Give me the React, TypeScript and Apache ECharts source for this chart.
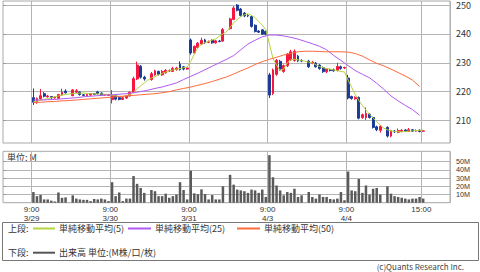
import React, { useEffect, useRef } from 'react';
import * as echarts from 'echarts';

// ---- categories / tick labels ----
const dayLabels = ['3/29', '3/30', '3/31', '4/3', '4/4'];
const sessionTimes = [
  '9:00', '9:15', '9:30', '9:45', '10:00', '10:15', '10:30', '10:45', '11:00', '11:15',
  '11:30',
  '12:30', '12:45', '13:00', '13:15', '13:30', '13:45', '14:00', '14:15', '14:30', '14:45', '15:00',
];
const openTime = '9:00';
const closeTime = '15:00';
const volumeTicks = [10, 20, 30, 40, 50];

// ---- candles [open, close, low, high], 21 bars per day (10 morning + 11 afternoon) ----
const candles0329 = [
  [217.9, 216.3, 215.4, 221.1], [216.2, 217.6, 215.8, 218.0], [217.5, 218.6, 217.2, 220.9],
  [219.3, 218.4, 218.0, 219.8], [218.2, 218.5, 217.9, 218.9], [218.3, 217.9, 217.5, 218.5],
  [217.8, 218.1, 217.6, 218.2], [217.7, 219.0, 217.5, 219.2], [218.9, 219.8, 218.6, 221.0],
  [220.2, 219.6, 219.3, 220.8],
  [218.6, 220.6, 218.4, 220.9], [219.8, 220.3, 219.5, 220.9], [219.9, 219.0, 218.6, 220.1],
  [218.9, 218.7, 218.4, 219.2], [218.6, 219.0, 218.5, 219.2], [218.8, 219.3, 218.6, 219.5],
  [219.3, 219.1, 218.9, 219.5], [219.9, 219.3, 219.0, 220.3], [219.5, 218.8, 218.6, 219.7],
  [218.8, 218.9, 218.6, 219.1], [218.7, 219.0, 218.5, 219.2],
];
const candles0330 = [
  [217.2, 218.6, 215.9, 220.5], [218.6, 217.4, 217.0, 218.9], [217.9, 217.3, 217.0, 218.2],
  [217.3, 217.9, 217.1, 218.1], [217.8, 218.6, 217.5, 218.9], [218.5, 219.8, 218.3, 220.0],
  [219.7, 224.5, 219.5, 225.2], [224.4, 229.2, 224.0, 230.4], [228.8, 225.0, 224.5, 229.2],
  [225.0, 224.4, 223.8, 225.5],
  [224.2, 226.2, 223.8, 226.8], [225.8, 227.2, 225.5, 227.6], [227.0, 226.0, 225.6, 227.3],
  [225.8, 227.0, 225.5, 227.5], [226.5, 227.4, 226.2, 227.8], [227.2, 227.3, 226.8, 227.7],
  [227.0, 228.0, 226.8, 228.6], [227.6, 228.2, 227.3, 228.6], [229.5, 227.6, 227.3, 230.5],
  [228.6, 227.8, 227.4, 228.9], [227.8, 228.2, 227.6, 228.5],
];
const candles0331 = [
  [237.9, 233.4, 232.8, 238.4], [233.4, 235.7, 233.0, 236.0], [235.3, 236.8, 235.0, 237.2],
  [236.5, 237.8, 236.2, 238.7], [237.9, 236.9, 236.5, 238.3], [237.1, 237.3, 236.8, 237.7],
  [237.8, 236.9, 236.6, 238.1], [236.9, 237.6, 236.6, 237.9], [237.5, 237.4, 237.1, 237.9],
  [237.5, 241.5, 237.3, 242.0],
  [241.8, 245.2, 241.5, 245.6], [245.0, 249.0, 244.8, 249.6], [250.0, 248.2, 247.8, 250.3],
  [248.6, 246.4, 246.0, 249.0], [247.2, 246.2, 245.8, 247.6], [246.4, 246.2, 245.8, 246.8],
  [246.0, 242.6, 242.2, 246.3], [243.0, 240.8, 240.5, 243.3], [241.0, 240.6, 240.3, 241.3],
  [241.4, 239.9, 239.6, 241.7], [240.9, 239.9, 239.5, 241.2],
];
const candles0403 = [
  [225.8, 218.8, 217.8, 226.5], [219.3, 227.5, 218.8, 228.0], [226.0, 230.8, 225.5, 231.3],
  [230.5, 227.8, 227.2, 231.0], [227.0, 229.0, 226.5, 229.4], [229.0, 233.0, 228.5, 233.4],
  [231.0, 233.8, 230.6, 234.5], [230.8, 234.0, 230.4, 234.6], [232.3, 230.6, 230.2, 232.7],
  [230.8, 230.6, 230.2, 231.2],
  [230.6, 228.6, 228.2, 231.0], [229.8, 230.2, 229.5, 230.6], [229.9, 228.6, 228.3, 230.2],
  [229.2, 228.0, 227.6, 229.5], [228.3, 226.9, 226.5, 228.7], [226.9, 227.8, 226.4, 228.1],
  [227.5, 227.3, 227.0, 227.9], [227.6, 227.2, 226.9, 228.0], [227.3, 228.7, 227.0, 230.0],
  [228.6, 228.0, 227.6, 229.0], [228.2, 228.4, 227.8, 228.6],
];
const candles0404 = [
  [224.7, 217.8, 217.3, 225.8], [218.3, 217.6, 217.2, 218.6], [217.5, 218.0, 217.2, 218.4],
  [218.0, 210.8, 210.4, 218.3], [211.0, 212.0, 210.6, 212.4], [211.0, 212.5, 210.2, 214.5],
  [212.2, 211.0, 210.7, 212.5], [211.0, 207.6, 207.2, 211.3], [207.8, 206.8, 206.3, 208.2],
  [206.6, 208.0, 205.8, 208.4],
  [207.6, 204.6, 204.1, 208.0], [204.6, 206.4, 204.2, 206.8], [206.3, 206.1, 205.7, 206.7],
  [205.9, 206.5, 205.6, 207.2], [206.2, 206.6, 205.9, 207.0], [206.7, 206.3, 206.0, 207.0],
  [206.2, 206.8, 206.0, 207.4], [206.8, 206.3, 206.0, 207.0], [206.3, 206.5, 206.1, 206.9],
  [206.6, 206.2, 205.9, 206.9], [206.3, 206.4, 206.0, 206.7],
];

// ---- volume (M), 21 bars per day ----
const volume0329 = [13, 8, 9.5, 4, 4, 2.5, 1.5, 12.5, 6, 6.5, 9, 5, 4, 3.5, 3.5, 2, 4.5, 4, 5, 4, 2];
const volume0330 = [25, 8, 12.5, 2, 5, 5, 32.5, 23, 18, 12, 15.5, 14, 8, 8, 11, 6, 8, 10, 25, 15.5, 4];
const volume0331 = [39, 11.4, 10.3, 16.3, 10.6, 4, 9.3, 4, 4, 20, 34, 22, 16, 15, 14, 12, 16, 15, 12, 16, 7];
const volume0403 = [58, 31, 21, 15, 9, 13, 12, 17, 7, 9, 13, 7, 5, 10, 7, 7, 4.5, 4, 5, 13, 3];
const volume0404 = [38, 15, 14, 29, 12, 21, 10, 17, 18, 10, 20, 11, 8, 7, 6, 5, 4, 5, 5, 7, 5];

// ---- moving averages, one value per slot (22 per day, lunch slot included) ----
const ma5 = [
  216.5, 216.7, 217.0, 217.3, 217.6, 217.9, 218.2, 218.5, 218.8, 219.0, 219.2,
  219.3, 219.4, 219.5, 219.5, 219.4, 219.3, 219.2, 219.2, 219.2, 219.1, 219.0,
  218.8, 218.6, 218.4, 218.3, 218.6, 219.0, 219.8, 221.0, 222.0, 223.0, 224.0,
  224.7, 225.2, 225.8, 226.3, 226.8, 227.2, 227.5, 227.8, 228.0, 228.3, 228.5,
  230.5, 233.0, 235.3, 236.3, 237.0, 237.4, 237.9, 238.3, 239.2, 240.0, 240.8,
  242.3, 243.8, 245.0, 246.0, 246.6, 247.0, 246.4, 245.6, 244.3, 243.0, 241.5,
  236.5, 231.5, 229.2, 227.2, 227.8, 230.0, 231.0, 231.2, 231.0, 230.8, 230.5,
  230.2, 230.0, 229.3, 228.7, 228.3, 228.0, 227.8, 227.5, 227.3, 227.0, 226.8,
  224.0, 221.5, 219.0, 217.0, 215.2, 213.6, 212.2, 210.8, 209.6, 208.4, 207.3,
  206.8, 206.4, 206.2, 206.1, 206.1, 206.2, 206.3, 206.4, 206.5, 206.6, 206.7,
];
// every second slot (slot 0, 2, 4, ...)
const ma25Even = [
  217.1, 217.1, 217.2, 217.3, 217.5, 217.7, 217.9, 218.2, 218.4, 218.6, 218.8,
  218.9, 219.1, 219.3, 219.6, 220.0, 220.5, 221.1, 221.6, 222.3, 223.0, 224.2,
  225.3, 226.4, 227.6, 228.8, 230.0, 231.2, 232.5, 234.5, 236.5, 237.8, 239.0,
  239.6, 239.6, 239.3, 238.8, 238.2, 237.4, 236.6, 235.7, 234.5, 232.5, 230.8,
  229.0, 227.3, 226.0, 224.8, 222.9, 220.8, 218.5, 216.8, 215.2, 213.8, 211.8,
];
const ma50Even = [
  216.2, 216.3, 216.5, 216.6, 216.8, 216.9, 217.1, 217.3, 217.5, 217.7, 217.9,
  218.1, 218.3, 218.5, 218.7, 218.9, 219.1, 219.3, 219.6, 220.0, 220.6, 221.1,
  221.6, 222.2, 222.8, 223.5, 224.3, 225.1, 226.1, 227.2, 228.2, 229.4, 230.4,
  231.2, 231.9, 232.7, 233.3, 233.8, 234.0, 234.0, 233.9, 233.8, 233.8, 233.8,
  233.7, 233.2, 232.3, 231.0, 229.8, 228.9, 227.8, 226.6, 225.4, 224.0, 221.8,
];

const LEAD = 8;
const TRAIL = 7;
const FONT = '"Noto Sans CJK JP", "Noto Sans", sans-serif';
const TICK_FONT = '"Liberation Sans", Arial, sans-serif';

function padSlots(perSlot: any[], empty: any) {
  const out: any[] = [];
  for (let i = 0; i < LEAD; i++) out.push(empty);
  perSlot.forEach((v) => out.push(v));
  for (let i = 0; i < TRAIL; i++) out.push(empty);
  return out;
}
function daysToSlots(days: any[][], empty: any) {
  const out: any[] = [];
  days.forEach((d) => d.forEach((v, k) => { if (k === 10) out.push(empty); out.push(v); }));
  return out;
}
function evenToSlots(even: number[]) {
  const out: (number | null)[] = [];
  even.forEach((v) => { out.push(v); out.push(null); });
  return out;
}

export default function App() {
  const ref = useRef<HTMLDivElement>(null);
  useEffect(() => {
    if (!ref.current) return;
    const chart = echarts.init(ref.current, undefined, { renderer: 'svg', width: 480, height: 272 });

    const categories: string[] = [];
    for (let i = 0; i < LEAD; i++) categories.push('pre' + i);
    dayLabels.forEach((d) => sessionTimes.forEach((t) => categories.push(d + ' ' + t)));
    for (let i = 0; i < TRAIL; i++) categories.push('post' + i);

    const labelText: Record<string, string> = {};
    dayLabels.forEach((d) => { labelText[d + ' ' + openTime] = openTime + '\n' + d; });
    const lastDay = dayLabels[dayLabels.length - 1];
    labelText[lastDay + ' ' + closeTime] = closeTime;
    const markIdx = new Set<number>();
    categories.forEach((c, i) => { if (labelText[c] !== undefined) markIdx.add(i); });

    const candleData = padSlots(daysToSlots([candles0329, candles0330, candles0331, candles0403, candles0404], '-'), '-');
    const volData = padSlots(daysToSlots([volume0329, volume0330, volume0331, volume0403, volume0404], '-'), '-');
    const ma5Data = padSlots(ma5, null);
    const ma25Data = padSlots(evenToSlots(ma25Even), null);
    const ma50Data = padSlots(evenToSlots(ma50Even), null);

    const gridLine = { color: '#b4b4b4', width: 1 };
    const labelStyle = { color: '#333', fontSize: 9, fontFamily: FONT };

    const red = '#f5173f';
    const blue = '#1d3c96';
    const c5 = '#b5d43e';
    const c25 = '#b159f2';
    const c50 = '#ff6a3d';

    const L = 3, R = 30;
    const priceTop = 1, priceH = 142;
    const pMin = 202.2, pMax = 251.4;
    const ppu = priceH / (pMax - pMin);
    const volTop = 151.3, volH = 51.4, vMax = 62.7;
    const vpu = volH / vMax;
    const vTop = volumeTicks[volumeTicks.length - 1];
    const vStep = volumeTicks[1] - volumeTicks[0];
    const vTopY = volTop + volH - vTop * vpu;

    const txt = (text: string, x: number, y: number, extra: any = {}) => ({
      type: 'text', x, y, silent: true,
      style: { text, fill: '#333', font: '9px ' + FONT, align: 'left', verticalAlign: 'middle', ...extra },
    });
    const seg = (x1: number, x2: number, y: number, color: string, w = 2) => ({
      type: 'line', silent: true, shape: { x1, y1: y, x2, y2: y }, style: { stroke: color, lineWidth: w },
    });

    chart.setOption({
      animation: false,
      backgroundColor: '#ffffff',
      grid: [
        { left: L, right: R, top: priceTop, height: priceH, show: true, borderColor: '#a8a8a8', borderWidth: 1 },
        { left: L, right: R, top: volTop, height: volH, show: true, borderColor: '#a8a8a8', borderWidth: 1 },
        { left: L, right: R, top: priceTop + (pMax - 250) * ppu, height: 40 * ppu },
        { left: L, right: R, top: vTopY, height: vTop * vpu },
      ],
      xAxis: [
        {
          type: 'category', gridIndex: 0, data: categories, boundaryGap: true,
          axisLine: { show: false }, axisTick: { show: false }, axisLabel: { show: false },
          splitLine: { show: true, interval: (i: number) => markIdx.has(i), lineStyle: gridLine },
        },
        {
          type: 'category', gridIndex: 1, data: categories, boundaryGap: true,
          axisLine: { show: false }, axisTick: { show: false },
          axisLabel: {
            show: true, interval: (i: number) => markIdx.has(i), margin: 2, lineHeight: 9.4,
            padding: [0, 3.6, 0, 0], color: '#333', fontSize: 8, fontFamily: TICK_FONT,
            formatter: (v: string) => labelText[v] ?? '',
          },
          splitLine: { show: true, interval: (i: number) => markIdx.has(i), lineStyle: gridLine },
        },
        { type: 'value', gridIndex: 2, show: false, min: 0, max: 1 },
        { type: 'value', gridIndex: 3, show: false, min: 0, max: 1 },
      ],
      yAxis: [
        { type: 'value', gridIndex: 0, min: pMin, max: pMax, show: false },
        { type: 'value', gridIndex: 1, min: 0, max: vMax, show: false },
        {
          type: 'value', gridIndex: 2, min: 210, max: 250, interval: 10, position: 'right',
          axisLine: { show: false }, axisTick: { show: true, length: 3, lineStyle: { color: '#999' } },
          axisLabel: { margin: 6, ...labelStyle },
          splitLine: { show: true, lineStyle: gridLine },
        },
        {
          type: 'value', gridIndex: 3, min: 0, max: vTop, interval: vStep, position: 'right',
          axisLine: { show: false }, axisTick: { show: true, length: 3, lineStyle: { color: '#999' } },
          axisLabel: {
            margin: 6, color: '#333', fontSize: 7.2, lineHeight: 7.5, fontFamily: TICK_FONT,
            showMinLabel: false, showMaxLabel: true, hideOverlap: false,
            formatter: (v: number) => (v === 0 ? '' : v + 'M'),
          },
          splitLine: { show: true, lineStyle: gridLine },
        },
      ],
      series: [
        {
          type: 'candlestick', name: '株価', xAxisIndex: 0, yAxisIndex: 0, data: candleData, barWidth: 2.4,
          itemStyle: { color: red, color0: blue, borderColor: red, borderColor0: blue, borderWidth: 1 },
        },
        {
          type: 'line', name: '単純移動平均(5)', xAxisIndex: 0, yAxisIndex: 0, data: ma5Data, connectNulls: true,
          showSymbol: false, symbol: 'none', lineStyle: { color: c5, width: 1 },
        },
        {
          type: 'line', name: '単純移動平均(25)', xAxisIndex: 0, yAxisIndex: 0, data: ma25Data, connectNulls: true,
          showSymbol: false, symbol: 'none', lineStyle: { color: c25, width: 1 },
        },
        {
          type: 'line', name: '単純移動平均(50)', xAxisIndex: 0, yAxisIndex: 0, data: ma50Data, connectNulls: true,
          showSymbol: false, symbol: 'none', lineStyle: { color: c50, width: 1 },
        },
        {
          type: 'bar', name: '出来高', xAxisIndex: 1, yAxisIndex: 1, data: volData, barWidth: 2.5,
          itemStyle: { color: '#5a5a5a' },
        },
      ],
      graphic: [
        txt('単位: M', 7, 157),
        { type: 'rect', silent: true, shape: { x: 2.5, y: 222.5, width: 476, height: 38 }, style: { fill: 'none', stroke: '#777', lineWidth: 1 } },
        txt('上段:', 8, 228.5),
        seg(33, 55, 228.5, c5),
        txt('単純移動平均(5)', 59, 228.5),
        seg(128, 151, 228.5, c25),
        txt('単純移動平均(25)', 155, 228.5),
        seg(237, 260, 228.5, c50),
        txt('単純移動平均(50)', 264, 228.5),
        txt('下段:', 8, 252.7),
        seg(33, 55, 252.7, '#555'),
        txt('出来高 単位:(M株/口/枚)', 59, 252.7),
        txt('(c)Quants Research Inc.', 464, 266.5, { align: 'right', fill: '#444', font: '8px ' + FONT }),
      ],
    });
    return () => chart.dispose();
  }, []);
  return <div ref={ref} style={{ position: 'fixed', left: 0, top: 0, width: 480, height: 272 }} />;
}
